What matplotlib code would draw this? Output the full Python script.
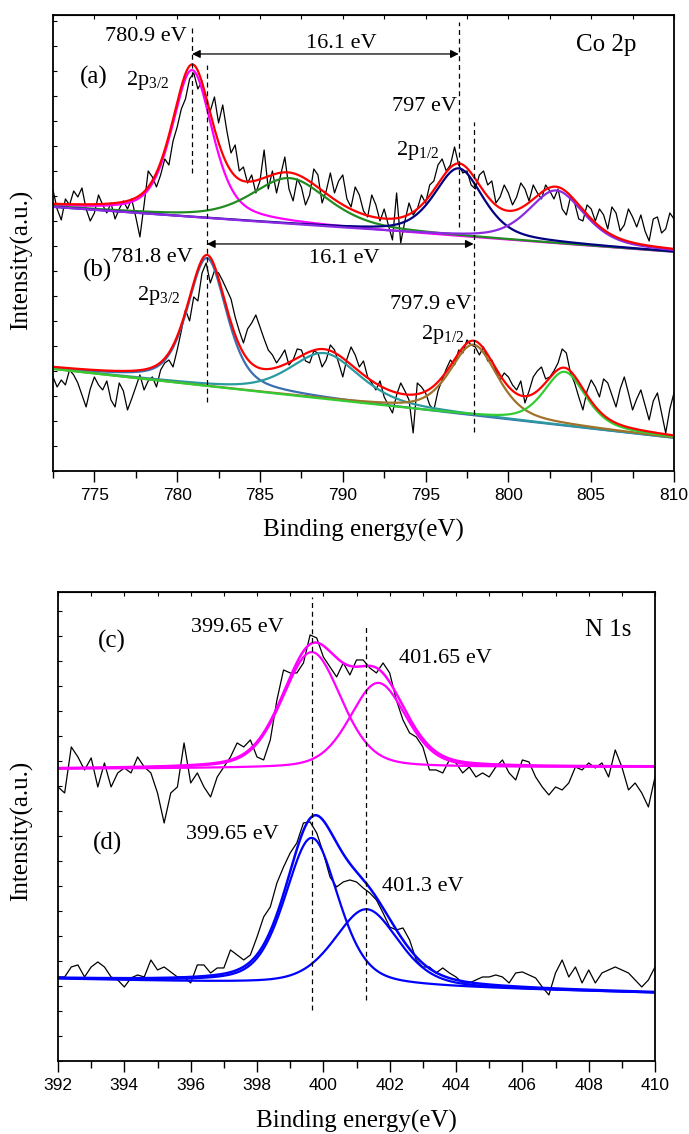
import numpy as np
import matplotlib
matplotlib.use("Agg")
import matplotlib.pyplot as plt
from matplotlib.ticker import MultipleLocator

plt.rcParams['font.family'] = 'Liberation Serif'
plt.rcParams['mathtext.fontset'] = 'custom'
plt.rcParams['mathtext.rm'] = 'Liberation Serif'
plt.rcParams['mathtext.it'] = 'Liberation Serif:italic'

# ---- Co 2p raw spectra, 0.25 eV steps from 772.5 to 810 eV ----
co_start, co_step = 772.5, 0.25
co_a = [281, 262, 251, 272, 266, 280, 274, 283, 262, 250,
        258, 276, 266, 258, 268, 252, 262, 270, 262, 272,
        254, 234, 266, 300, 294, 284, 296, 312, 306, 330,
        344, 362, 372, 392, 398, 382, 390, 368, 360, 374,
        348, 366, 340, 318, 326, 300, 304, 288, 296, 278,
        290, 321, 282, 300, 278, 296, 314, 282, 270, 292,
        284, 266, 276, 302, 296, 268, 280, 298, 278, 290,
        296, 272, 264, 284, 276, 260, 254, 276, 266, 250,
        262, 246, 231, 278, 228, 250, 268, 256, 262, 276,
        268, 286, 290, 306, 312, 300, 306, 324, 306, 298,
        300, 286, 282, 296, 300, 286, 290, 268, 274, 286,
        278, 266, 274, 288, 282, 270, 286, 278, 272, 286,
        280, 272, 282, 262, 256, 274, 268, 252, 250, 266,
        262, 250, 262, 256, 242, 264, 258, 240, 246, 262,
        254, 244, 256, 240, 230, 252, 254, 238, 242, 258,
        252]
co_b = [94, 84, 91, 86, 101, 96, 88, 76, 64, 82,
        94, 86, 81, 90, 71, 64, 88, 80, 61, 72,
        84, 96, 81, 90, 94, 84, 101, 108, 111, 104,
        121, 140, 161, 150, 174, 170, 198, 208, 188, 200,
        198, 190, 181, 172, 154, 140, 128, 142, 148, 156,
        144, 132, 121, 116, 108, 114, 121, 106, 111, 122,
        121, 110, 108, 120, 118, 104, 111, 126, 121, 108,
        94, 112, 124, 116, 104, 110, 94, 88, 81, 90,
        74, 66, 58, 76, 88, 80, 71, 38, 88, 84,
        78, 66, 61, 80, 91, 102, 111, 106, 121, 118,
        131, 126, 124, 116, 124, 110, 111, 100, 91, 98,
        94, 86, 81, 90, 68, 80, 94, 100, 104, 92,
        94, 100, 108, 122, 118, 98, 88, 74, 61, 80,
        91, 84, 74, 92, 88, 76, 64, 82, 94, 78,
        61, 72, 81, 66, 51, 70, 78, 58, 38, 62,
        78]

# fitted components: centre (eV), height, FWHM (eV)
a_bg = (264, 219)
a_pos = [780.9, 786.8, 797.0, 802.9]
a_amp = [147, 46, 68, 53]
a_fwhm = [2.9, 5.5, 3.5, 4.0]
a_col = ['#ff00ff', '#228b22', '#000080', '#8a2be2']

b_bg = (102, 33)
b_pos = [781.8, 788.9, 797.9, 803.4]
b_amp = [128, 46, 71, 54]
b_fwhm = [2.8, 5.0, 3.4, 3.0]
b_col = ['#3a6fb0', '#2a9aa0', '#a0722a', '#33cc33']

# ---- N 1s raw spectra, 0.2 eV steps from 392 to 410 eV ----
n_start, n_step = 392.0, 0.2
n_c = [274, 268, 314, 304, 291, 303, 274, 298, 274, 288,
       293, 288, 304, 294, 288, 268, 238, 268, 274, 318,
       278, 288, 274, 264, 284, 294, 304, 318, 314, 321,
       304, 301, 321, 361, 391, 388, 388, 398, 426, 423,
       404, 394, 384, 398, 386, 401, 401, 393, 388, 398,
       388, 361, 341, 328, 324, 314, 291, 291, 288, 301,
       298, 288, 294, 284, 288, 284, 294, 301, 288, 281,
       301, 299, 284, 274, 266, 274, 271, 278, 294, 291,
       298, 293, 298, 284, 311, 294, 271, 278, 268, 254,
       284]
n_d = [84, 84, 94, 96, 84, 94, 99, 94, 84, 81,
       74, 83, 86, 84, 101, 91, 94, 89, 84, 84,
       78, 96, 96, 88, 93, 93, 111, 106, 101, 106,
       124, 144, 154, 178, 194, 208, 218, 238, 239, 228,
       208, 184, 174, 179, 181, 179, 173, 168, 161, 148,
       134, 131, 133, 121, 101, 94, 94, 88, 93, 88,
       84, 78, 78, 81, 84, 84, 86, 84, 78, 88,
       89, 86, 83, 74, 66, 88, 101, 84, 94, 78,
       91, 78, 88, 91, 94, 91, 88, 81, 74, 81,
       94]

c_bg = (292, 294)
c_pos = [399.65, 401.65]
c_amp = [116, 85]
c_fwhm = [2.1, 2.0]

d_bg = (82, 68)
d_pos = [399.65, 401.3]
d_amp = [147, 77]
d_fwhm = [1.9, 2.3]

co_be = co_start + co_step * np.arange(len(co_a))
n_be = n_start + n_step * np.arange(len(n_c))


def pvoigt(x, c, h, w, eta):
    s = (x - c) / (w / 2.0)
    return h * (eta / (1 + s ** 2) + (1 - eta) * np.exp(-np.log(2) * s ** 2))


def draw_fit(ax, x, bg, pos, amp, fwhm, cols, env_col, eta, lw=1.6, env_lw=1.6):
    base = bg[0] + (bg[1] - bg[0]) * (x - x[0]) / (x[-1] - x[0])
    total = base.copy()
    for c, h, w, col in zip(pos, amp, fwhm, cols):
        comp = pvoigt(x, c, h, w, eta)
        ax.plot(x, base + comp, color=col, lw=lw)
        total += comp
    ax.plot(x, total, color=env_col, lw=env_lw)


def style_axis(ax, xmin, xmax, major, minor, ymax):
    ax.set_xlim(xmin, xmax)
    ax.set_ylim(0, ymax)
    ax.xaxis.set_major_locator(MultipleLocator(major))
    ax.xaxis.set_minor_locator(MultipleLocator(minor))
    ax.yaxis.set_major_locator(MultipleLocator(25))
    ax.tick_params(axis='x', which='major', direction='out', length=8, width=1, pad=4,
                   labelsize=12.5, labelfontfamily='Liberation Sans')
    ax.tick_params(axis='x', which='minor', direction='out', length=5, width=1)
    ax.tick_params(axis='y', which='both', direction='in', length=3, width=0.8, labelleft=False)
    for sp in ax.spines.values():
        sp.set_linewidth(1.3)
    top = ax.secondary_xaxis('top')
    top.xaxis.set_major_locator(MultipleLocator(major))
    top.xaxis.set_minor_locator(MultipleLocator(minor))
    top.tick_params(which='both', direction='in', length=3, width=0.8, labeltop=False)
    ax.set_xlabel('Binding energy(eV)', fontsize=18)
    ax.set_ylabel('Intensity(a.u.)', fontsize=18)


def double_arrow(ax, x0, x1, y):
    ax.annotate('', xy=(x1, y), xytext=(x0, y),
                arrowprops=dict(arrowstyle='<|-|>', color='black', lw=0.9,
                                mutation_scale=12, shrinkA=0, shrinkB=0))


fig = plt.figure(figsize=(6.89, 11.34), dpi=100)
ax1 = fig.add_axes([0.0769, 0.5847, 0.9013, 0.4021])
ax2 = fig.add_axes([0.0842, 0.0644, 0.8665, 0.4136])

# ---------- Co 2p ----------
xc = np.linspace(772.5, 810, 600)
ax1.plot(co_be, co_a, color='black', lw=0.9)
ax1.plot(co_be, co_b, color='black', lw=0.9)
draw_fit(ax1, xc, a_bg, a_pos, a_amp, a_fwhm, a_col, '#ff0000', 0.5)
draw_fit(ax1, xc, b_bg, b_pos, b_amp, b_fwhm, b_col, '#ff0000', 0.5)

dash = dict(color='black', lw=0.9, ls=(0, (4, 3)))
ax1.plot([780.9, 780.9], [298, 446], **dash)
ax1.plot([781.8, 781.8], [69, 406], **dash)
ax1.plot([797.0, 797.0], [244, 449], **dash)
ax1.plot([797.9, 797.9], [39, 349], **dash)
double_arrow(ax1, 780.9, 797.0, 417)
double_arrow(ax1, 781.8, 797.9, 227)

fs = 16
ax1.text(780.55, 434, '780.9 eV', fontsize=fs, ha='right', va='center')
ax1.text(789.9, 427, '16.1 eV', fontsize=fs, ha='center', va='center')
ax1.text(804.1, 426, 'Co 2p', fontsize=18, ha='left', va='center')
ax1.text(774.1, 394, '(a)', fontsize=18, ha='left', va='center')
ax1.text(776.9, 390, r'2p$_{\rm 3/2}$', fontsize=fs, ha='left', va='center')
ax1.text(796.9, 364, '797 eV', fontsize=fs, ha='right', va='center')
ax1.text(793.2, 320, r'2p$_{\rm 1/2}$', fontsize=fs, ha='left', va='center')
ax1.text(790.1, 212, '16.1 eV', fontsize=fs, ha='center', va='center')
ax1.text(774.3, 201, '(b)', fontsize=18, ha='left', va='center')
ax1.text(776.0, 213, '781.8 eV', fontsize=fs, ha='left', va='center')
ax1.text(777.6, 175, r'2p$_{\rm 3/2}$', fontsize=fs, ha='left', va='center')
ax1.text(797.8, 166, '797.9 eV', fontsize=fs, ha='right', va='center')
ax1.text(794.7, 136, r'2p$_{\rm 1/2}$', fontsize=fs, ha='left', va='center')

style_axis(ax1, 772.5, 810, 5, 2.5, 456)
ax1.xaxis.set_label_coords(0.5, -0.105)
ax1.yaxis.set_label_coords(-0.032, 0.463)

# ---------- N 1s ----------
xn = np.linspace(392, 410, 600)
ax2.plot(n_be, n_c, color='black', lw=0.9)
ax2.plot(n_be, n_d, color='black', lw=0.9)
draw_fit(ax2, xn, c_bg, c_pos, c_amp, c_fwhm, ['#ff00ff'] * 2, '#ff00ff', 0.3, env_lw=1.8)
draw_fit(ax2, xn, d_bg, d_pos, d_amp, d_fwhm, ['#0000ff'] * 2, '#0000ff', 0.4, env_lw=1.8)

ax2.plot([399.65, 399.65], [51, 464], **dash)
ax2.plot([401.3, 401.3], [61, 436], **dash)

ax2.text(393.2, 419, '(c)', fontsize=18, ha='left', va='center')
ax2.text(398.8, 433, '399.65 eV', fontsize=fs, ha='right', va='center')
ax2.text(407.9, 431, 'N 1s', fontsize=18, ha='left', va='center')
ax2.text(402.27, 402, '401.65 eV', fontsize=fs, ha='left', va='center')
ax2.text(393.06, 218, '(d)', fontsize=18, ha='left', va='center')
ax2.text(398.66, 226, '399.65 eV', fontsize=fs, ha='right', va='center')
ax2.text(401.77, 174, '401.3 eV', fontsize=fs, ha='left', va='center')

style_axis(ax2, 392, 410, 2, 1, 469)
ax2.xaxis.set_label_coords(0.5, -0.104)
ax2.yaxis.set_label_coords(-0.042, 0.49)

fig.savefig('out.png', dpi=100)
